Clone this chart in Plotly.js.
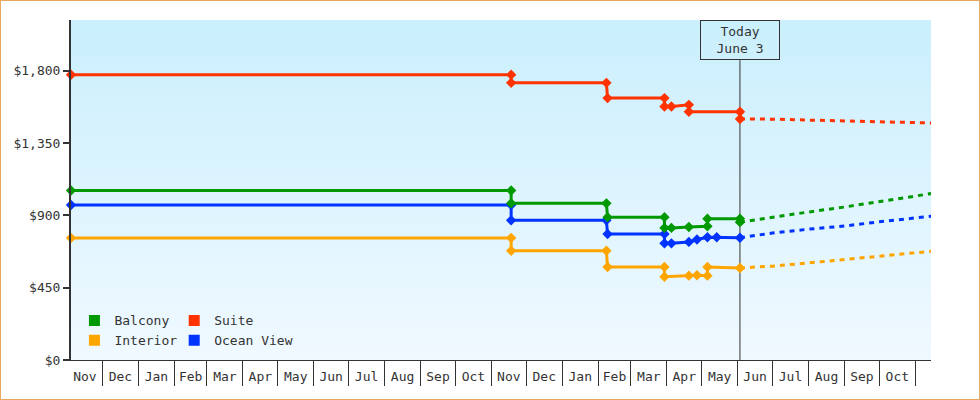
<!DOCTYPE html>
<html>
<head>
<meta charset="utf-8">
<script src="https://cdn.plot.ly/plotly-3.0.1.min.js"></script>
<style>
body { margin: 0; background: #fff; }
#chart { width: 980px; height: 400px; box-sizing: border-box; border: 1px solid #e8a860; }
</style>
</head>
<body>
<div id="chart"></div>
<script>
// observed prices (step changes have two points on the same day or the next day)
var interiorDates = ["2024-11-04", "2025-11-18", "2025-11-18", "2026-02-08", "2026-02-09", "2026-03-30", "2026-03-30", "2026-04-20", "2026-04-27", "2026-05-06", "2026-05-06", "2026-06-03"];
var interiorPrices = [760, 760, 680, 680, 579, 579, 518, 525, 527, 525, 579, 573];

var oceanDates = ["2024-11-04", "2025-11-18", "2025-11-18", "2026-02-08", "2026-02-09", "2026-03-30", "2026-03-30", "2026-04-05", "2026-04-20", "2026-04-27", "2026-05-06", "2026-05-14", "2026-06-03"];
var oceanPrices = [965, 965, 869, 869, 784, 784, 726, 726, 735, 750, 764, 764, 761];

var balconyDates = ["2024-11-04", "2025-11-18", "2025-11-18", "2026-02-08", "2026-02-09", "2026-03-30", "2026-03-30", "2026-04-05", "2026-04-20", "2026-05-06", "2026-05-06", "2026-06-03", "2026-06-03"];
var balconyPrices = [1055, 1055, 975, 975, 889, 889, 822, 822, 828, 832, 879, 879, 858];

var suiteDates = ["2024-11-04", "2025-11-18", "2025-11-18", "2026-02-08", "2026-02-09", "2026-03-30", "2026-03-30", "2026-04-05", "2026-04-20", "2026-04-20", "2026-06-03", "2026-06-03"];
var suitePrices = [1775, 1775, 1725, 1725, 1630, 1630, 1578, 1578, 1588, 1545, 1545, 1500];

// projected prices after today
var forecastDates = ["2026-06-03", "2026-07-01", "2026-08-01", "2026-09-01", "2026-10-01", "2026-11-01", "2026-11-15"];
var interiorForecast = [573, 584, 604, 624, 645, 666, 677];
var oceanForecast = [761, 790, 814, 834, 860, 886, 895];
var balconyForecast = [858, 890, 921, 952, 985, 1022, 1036];
var suiteForecast = [1500, 1499, 1493, 1489, 1483, 1477, 1475];

var todayDate = "2026-06-03";
var todayText = "Today<br>June 3";

var xRange = ["2024-11-04", "2026-11-14 12:00"];
var yRange = [0, 2116];

var font = "DejaVu Sans Mono";
var ink = "#333333";

// drawing order: blue under green
var series = [
    {name: "Interior", dates: interiorDates, prices: interiorPrices, forecast: interiorForecast, color: "#ffa500", legend: "legend"},
    {name: "Ocean View", dates: oceanDates, prices: oceanPrices, forecast: oceanForecast, color: "#0033ff", legend: "legend2"},
    {name: "Balcony", dates: balconyDates, prices: balconyPrices, forecast: balconyForecast, color: "#009900", legend: "legend"},
    {name: "Suite", dates: suiteDates, prices: suitePrices, forecast: suiteForecast, color: "#ff3300", legend: "legend2"}
];
var legendOrder = ["Balcony", "Interior", "Suite", "Ocean View"];

var data = [];
series.forEach(function (s) {
    data.push({
        x: forecastDates, y: s.forecast,
        type: "scatter", mode: "lines",
        line: {color: s.color, width: 3, dash: "5px,5px"},
        hoverinfo: "skip", showlegend: false
    });
});
series.forEach(function (s) {
    data.push({
        x: s.dates, y: s.prices,
        type: "scatter", mode: "lines+markers",
        line: {color: s.color, width: 3},
        marker: {symbol: "diamond", size: 8, color: s.color},
        cliponaxis: false,
        hoverinfo: "skip", showlegend: false
    });
});
// legend entries with square swatches
legendOrder.forEach(function (n) {
    var s = series.filter(function (d) { return d.name === n; })[0];
    data.push({
        x: [null], y: [null], name: s.name, legend: s.legend,
        type: "scatter", mode: "markers",
        marker: {symbol: "square", size: 11, color: s.color}
    });
});

var bg = "<svg xmlns='http://www.w3.org/2000/svg' viewBox='0 0 10 100' preserveAspectRatio='none'>" +
    "<defs><linearGradient id='g' x1='0' y1='0' x2='0' y2='1'>" +
    "<stop offset='0' stop-color='#caeffd'/><stop offset='1' stop-color='#f0f9ff'/>" +
    "</linearGradient></defs><rect x='0' y='0' width='10' height='100' fill='url(#g)'/></svg>";

var legendStyle = {
    yanchor: "top", xanchor: "left", y: 0.218,
    bgcolor: "rgba(0,0,0,0)", borderwidth: 0,
    font: {family: font, size: 13, color: ink}
};

var layout = {
    width: 978,
    height: 398,
    margin: {l: 70, r: 48, t: 19, b: 14},
    paper_bgcolor: "#ffffff",
    plot_bgcolor: "rgba(0,0,0,0)",
    font: {family: font, size: 13, color: ink},
    images: [{
        source: "data:image/svg+xml;charset=utf-8," + encodeURIComponent(bg),
        xref: "paper", yref: "paper", x: 0, y: 1, sizex: 1, sizey: 0.9315,
        xanchor: "left", yanchor: "top", sizing: "stretch", layer: "below"
    }],
    xaxis: {
        type: "date", range: xRange, anchor: "y",
        showline: true, linecolor: ink, linewidth: 1,
        ticks: "outside", ticklen: 25, tickwidth: 1, tickcolor: ink,
        tick0: "2024-11-01", dtick: "M1", tickformat: "%b", ticklabelmode: "period",
        ticklabelstandoff: -21,
        showgrid: false, zeroline: false, fixedrange: true, automargin: false
    },
    xaxis2: {
        type: "date", range: xRange, overlaying: "x", anchor: "free", position: 0,
        showline: true, linecolor: ink, linewidth: 1,
        ticks: "", showticklabels: false, showgrid: false, zeroline: false
    },
    yaxis: {
        range: yRange, domain: [0.0685, 1],
        tick0: 0, dtick: 450, tickprefix: "$", tickformat: ",d",
        ticks: "outside", ticklen: 6, tickwidth: 2, tickcolor: ink,
        showline: true, linecolor: ink, linewidth: 2,
        showgrid: false, zeroline: false, fixedrange: true, automargin: false
    },
    legend: Object.assign({x: 0.004}, legendStyle),
    legend2: Object.assign({x: 0.12}, legendStyle),
    shapes: [{
        type: "line", xref: "x", yref: "y domain",
        x0: todayDate, x1: todayDate, y0: 0, y1: 0.882,
        line: {color: ink, width: 1}, layer: "below"
    }],
    annotations: [{
        x: todayDate, xref: "x", y: 1, yref: "y domain",
        xanchor: "center", yanchor: "top",
        text: todayText, showarrow: false,
        width: 72, height: 32, borderpad: 3,
        bordercolor: ink, borderwidth: 1,
        font: {family: font, size: 13, color: ink}
    }]
};

Plotly.newPlot("chart", data, layout, {displayModeBar: false, staticPlot: true});
</script>
</body>
</html>
